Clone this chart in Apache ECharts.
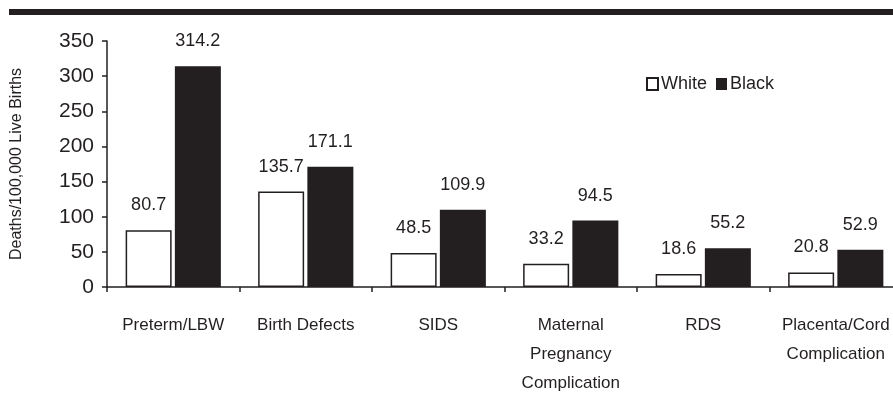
<!DOCTYPE html>
<html>
<head>
<meta charset="utf-8">
<script src="https://cdn.jsdelivr.net/npm/echarts@6/dist/echarts.min.js"></script>
<style>html,body{margin:0;padding:0;background:#fff}#c{width:893px;height:414px}</style>
</head>
<body>
<div id="c"></div>
<script>
const categories = ['Preterm/LBW', 'Birth Defects', 'SIDS', 'Maternal\nPregnancy\nComplication', 'RDS', 'Placenta/Cord\nComplication'];
const whiteValues = [80.7, 135.7, 48.5, 33.2, 18.6, 20.8];
const blackValues = [314.2, 171.1, 109.9, 94.5, 55.2, 52.9];
const seriesNames = ['White', 'Black'];
const yTitle = 'Deaths/100,000 Live Births';

const ink = '#231f20';
const font = 'Arial, "Liberation Sans", sans-serif';
const chart = echarts.init(document.getElementById('c'), null, {renderer: 'canvas'});
chart.setOption({
  animation: false,
  backgroundColor: '#fff',
  textStyle: {fontFamily: font, color: ink},
  graphic: [{
    type: 'rect', shape: {x: 9, y: 9, width: 900, height: 6}, style: {fill: ink}
  }],
  grid: {left: 107, top: 41, right: -9, bottom: 127, containLabel: false, outerBoundsMode: 'none'},
  legend: {
    left: 641, top: 70, itemWidth: 11, itemHeight: 12, itemGap: 9, icon: 'rect',
    textStyle: {fontSize: 18, color: ink, fontFamily: font, padding: [0, 0, 0, -2]},
    data: seriesNames
  },
  xAxis: {
    type: 'category', data: categories,
    axisLine: {lineStyle: {color: ink, width: 1.5}},
    axisTick: {show: true, length: 5, lineStyle: {color: ink, width: 1.5}},
    axisLabel: {fontSize: 17, color: ink, margin: 24, lineHeight: 29, interval: 0, fontFamily: font}
  },
  yAxis: {
    type: 'value', min: 0, max: 350, interval: 50,
    name: yTitle, nameLocation: 'middle', nameRotate: 90, nameGap: 82,
    nameTextStyle: {fontSize: 16, color: ink, fontFamily: font},
    axisLine: {show: true, lineStyle: {color: ink, width: 1.5}},
    axisTick: {show: true, length: 5, lineStyle: {color: ink, width: 1.5}},
    axisLabel: {fontSize: 21, color: ink, margin: 13, fontFamily: font},
    splitLine: {show: false}
  },
  series: [{
    name: seriesNames[0], type: 'bar', data: whiteValues, barWidth: 46, barGap: '7%',
    itemStyle: {color: '#fff', borderColor: ink, borderWidth: 1.5},
    label: {show: true, position: 'top', distance: 16, fontSize: 18, color: ink, fontFamily: font}
  }, {
    name: seriesNames[1], type: 'bar', data: blackValues, barWidth: 46,
    itemStyle: {color: ink},
    label: {show: true, position: 'top', distance: 16, fontSize: 18, color: ink, fontFamily: font}
  }]
});
</script>
</body>
</html>
